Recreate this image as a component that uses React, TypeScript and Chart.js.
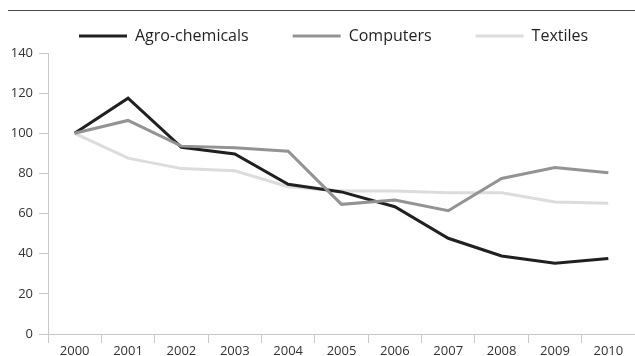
import React, { useEffect, useRef } from "react";
import { Chart, registerables } from "chart.js";

Chart.register(...registerables);

// Index values (2000 = 100)
const years = ["2000", "2001", "2002", "2003", "2004", "2005", "2006", "2007", "2008", "2009", "2010"];
const agroChemicals = [100, 117.5, 93, 89.7, 74.6, 70.8, 63.4, 47.7, 38.9, 35.3, 37.6];
const computers = [100, 106.4, 93.6, 92.8, 91.1, 64.6, 66.7, 61.4, 77.5, 83, 80.3];
const textiles = [100, 87.6, 82.4, 81.3, 73.4, 71.3, 71.2, 70.4, 70.4, 65.8, 65.1];

const seriesNames = ["Agro-chemicals", "Computers", "Textiles"];
const seriesColors = ["#231f20", "#939393", "#dcdcdc"];

const FONT = '"Open Sans", "Noto Sans", sans-serif';

// Horizontal key above the plot: a line sample followed by the series name
const seriesKey = {
  id: "seriesKey",
  afterDraw(chart: any, _args: any, opts: any) {
    const { ctx, chartArea } = chart;
    ctx.save();
    ctx.font = `${opts.fontSize}px ${FONT}`;
    ctx.textBaseline = "middle";
    ctx.textAlign = "left";
    let x = chartArea.left + opts.offsetX;
    const y = opts.y;
    chart.data.datasets.forEach((ds: any) => {
      ctx.strokeStyle = ds.borderColor;
      ctx.lineWidth = ds.borderWidth;
      ctx.beginPath();
      ctx.moveTo(x, y);
      ctx.lineTo(x + opts.sample, y);
      ctx.stroke();
      x += opts.sample + opts.textGap;
      ctx.fillStyle = opts.color;
      ctx.fillText(ds.label, x, y);
      x += ctx.measureText(ds.label).width + opts.itemGap;
    });
    ctx.restore();
  },
};

export default function App() {
  const canvasRef = useRef<HTMLCanvasElement | null>(null);

  useEffect(() => {
    const canvas = canvasRef.current;
    if (!canvas) return;
    const series = [agroChemicals, computers, textiles];
    const chart = new Chart(canvas, {
      type: "line",
      data: {
        labels: years,
        datasets: series.map((values, i) => ({
          label: seriesNames[i],
          data: values,
          borderColor: seriesColors[i],
          backgroundColor: seriesColors[i],
          borderWidth: 3,
          pointRadius: 0,
          tension: 0,
          order: i === 1 ? -1 : i,
        })),
      },
      options: {
        responsive: false,
        animation: false,
        devicePixelRatio: 1,
        layout: { padding: { top: 53, left: 0, right: 0, bottom: 0 } },
        plugins: {
          legend: { display: false },
          tooltip: { enabled: false },
          seriesKey: {
            fontSize: 16,
            color: "#231f20",
            y: 36,
            offsetX: 31,
            sample: 48,
            textGap: 8,
            itemGap: 44,
          },
        } as any,
        scales: {
          x: {
            offset: true,
            grid: {
              offset: true,
              drawOnChartArea: false,
              drawTicks: true,
              tickLength: 9,
              color: "#c8c8c8",
            },
            border: { display: true, color: "#c8c8c8", width: 1 },
            ticks: {
              color: "#333333",
              font: { family: FONT, size: 13 },
              padding: 0,
              maxRotation: 0,
              autoSkip: false,
            },
            afterFit: (scale: any) => {
              scale.height = 22;
            },
          },
          y: {
            min: 0,
            max: 140,
            grid: {
              drawOnChartArea: false,
              drawTicks: true,
              tickLength: 9,
              color: "#c8c8c8",
            },
            border: { display: true, color: "#c8c8c8", width: 1 },
            ticks: {
              stepSize: 20,
              color: "#333333",
              font: { family: FONT, size: 13 },
              padding: 6,
            },
            afterFit: (scale: any) => {
              scale.width = 48;
            },
          },
        },
      },
      plugins: [seriesKey],
    });
    return () => chart.destroy();
  }, []);

  return (
    <div
      style={{
        position: "fixed",
        left: 0,
        top: 0,
        width: 635,
        height: 356,
        background: "#ffffff",
        overflow: "hidden",
      }}
    >
      <div
        style={{
          position: "absolute",
          left: 8,
          right: 0,
          top: 10,
          height: 0,
          borderTop: "1.5px solid #4a4a4a",
        }}
      />
      <canvas
        ref={canvasRef}
        width={635}
        height={356}
        style={{ position: "absolute", left: 0, top: 0, width: 635, height: 356 }}
      />
    </div>
  );
}
